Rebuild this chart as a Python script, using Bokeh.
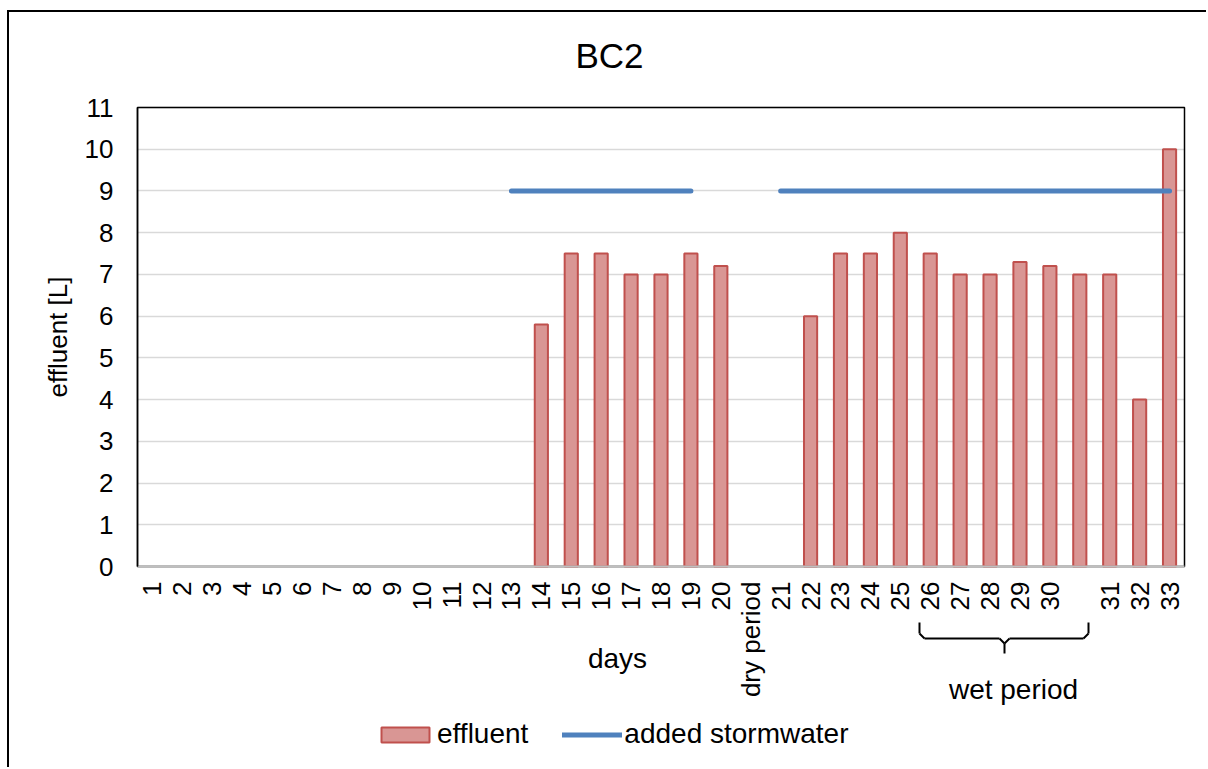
import math

from bokeh.embed import file_html
from bokeh.models import (Arrow, BoxAnnotation, ColumnDataSource, FixedTicker,
                          Label, Legend, LegendItem, Range1d)
from bokeh.plotting import figure
from bokeh.resources import INLINE

# ---- data -----------------------------------------------------------------
day_labels = [str(d) for d in range(1, 21)] + ["dry period"] + \
             [str(d) for d in range(21, 31)] + [""] + ["31", "32", "33"]

# effluent volume per day [L]; None = no measurement
effluent = [None] * 13 + [5.8, 7.5, 7.5, 7.0, 7.0, 7.5, 7.2] + \
           [None, None] + [6.0, 7.5, 7.5, 8.0, 7.5, 7.0, 7.0, 7.3, 7.2, 7.0] + \
           [7.0, 4.0, 10.0]

# added stormwater marker level [L]; None = no stormwater added
stormwater = [None] * 12 + [9] * 7 + [None, None] + [9] * 14

y_ticks = list(range(0, 12))
Y_MAX = 11

FONT = "Liberation Sans"

# ---- layout (page pixels) -------------------------------------------------
CANVAS_X0, CANVAS_Y0 = 9, 12          # canvas origin inside the outer border
PAGE_W, PAGE_H = 1208, 769
PLOT_L, PLOT_R, PLOT_T, PLOT_B = 137, 1184, 107, 566

n = len(day_labels)
positions = list(range(1, n + 1))
px_per_x = (PLOT_R - PLOT_L) / n
px_per_y = (PLOT_B - PLOT_T) / Y_MAX


def dx(page_x):
    return 0.5 + (page_x - PLOT_L) / px_per_x


def dy(page_y):
    return (PLOT_B - page_y) / px_per_y


# the frame covers the whole canvas, so the plot box, the axes and all
# annotations live in one coordinate system
p = figure(
    width=PAGE_W - CANVAS_X0, height=PAGE_H - CANVAS_Y0,
    x_range=Range1d(dx(CANVAS_X0), dx(PAGE_W)),
    y_range=Range1d(dy(PAGE_H), dy(CANVAS_Y0)),
    output_backend="svg", toolbar_location=None,
    min_border=0, min_border_left=0, min_border_right=0,
    min_border_top=0, min_border_bottom=0,
    background_fill_color="white", border_fill_color="white",
)
p.margin = (10, 0, 0, 7)
p.styles = {"border-left": "2px solid black", "border-top": "2px solid black"}
p.outline_line_color = None

# x axis: one tick per day, vertical labels
xa = p.xaxis[0]
xa.fixed_location = 0
xa.bounds = (0.5, n + 0.5)
xa.ticker = FixedTicker(ticks=positions)
xa.major_label_overrides = {pos: (lab if lab else " ") for pos, lab in zip(positions, day_labels)}
xa.major_label_orientation = math.pi / 2
xa.major_label_text_font = FONT
xa.major_label_text_font_size = "26px"
xa.major_label_text_color = "black"
xa.major_label_standoff = 9
xa.major_tick_line_color = None
xa.minor_tick_line_color = None
xa.axis_line_color = "#BFBFBF"
xa.axis_line_width = 2

# y axis
ya = p.yaxis[0]
ya.fixed_location = 0.5
ya.bounds = (0, Y_MAX)
ya.ticker = FixedTicker(ticks=y_ticks)
ya.major_label_text_font = FONT
ya.major_label_text_font_size = "26px"
ya.major_label_text_color = "black"
ya.major_label_standoff = 18
ya.major_tick_line_color = None
ya.minor_tick_line_color = None
ya.axis_line_color = "black"
ya.axis_line_width = 1.5
ya.axis_label = "effluent [L]"
ya.axis_label_text_font = FONT
ya.axis_label_text_font_size = "26px"
ya.axis_label_text_font_style = "normal"
ya.axis_label_text_color = "black"
ya.axis_label_standoff = 9

# horizontal grid only, inside the plot box and without the box edges
p.xgrid.visible = False
ygrid = p.ygrid[0]
ygrid.grid_line_color = "#D9D9D9"
ygrid.grid_line_width = 1.5
ygrid.bounds = (1, Y_MAX - 1)
if "cross_bounds" in ygrid.properties():
    ygrid.cross_bounds = (0.5, n + 0.5)
else:
    ygrid.visible = False
    inner = y_ticks[1:-1]
    p.segment(x0=[0.5] * len(inner), x1=[n + 0.5] * len(inner),
              y0=inner, y1=inner, line_color="#D9D9D9", line_width=1.5,
              level="underlay")

# plot area box
p.add_layout(BoxAnnotation(left=0.5, right=n + 0.5, bottom=0, top=Y_MAX,
                           fill_color=None, fill_alpha=0,
                           line_color="black", line_alpha=1,
                           line_width=1.5, level="underlay"))

# ---- series ---------------------------------------------------------------
bar_src = ColumnDataSource(dict(
    x=[pos for pos, v in zip(positions, effluent) if v is not None],
    top=[v for v in effluent if v is not None],
))
bars = p.vbar(x="x", top="top", width=0.44, source=bar_src,
              fill_color="#D99694", line_color="#C0504D", line_width=2)

storm_src = ColumnDataSource(dict(
    x=positions,
    y=[math.nan if v is None else v for v in stormwater],
))
storm = p.line(x="x", y="y", source=storm_src, line_width=5,
               line_color="#4F81BD", line_cap="round")

# ---- texts ----------------------------------------------------------------
def add_text(page_x, page_y, text, size):
    p.add_layout(Label(x=dx(page_x), y=dy(page_y), text=text,
                       text_align="center", text_baseline="middle",
                       text_font=FONT, text_font_size=size,
                       text_color="black"))


add_text(609, 55, "BC2", "35px")
add_text(617, 658, "days", "28px")
add_text(1013, 689, "wet period", "28px")

# curly bracket under the wet-period days
bx0, bx1, bxm = dx(919), dx(1088), dx(1004)
by_top, by_mid, by_bot = dy(622), dy(638), dy(653)
cx, cy = 5 / px_per_x, 5 / px_per_y
bracket = [
    (bx0, by_top, bx0, by_mid + cy),
    (bx0, by_mid + cy, bx0 + cx, by_mid),
    (bx0 + cx, by_mid, bxm - cx, by_mid),
    (bxm - cx, by_mid, bxm, by_mid - cy),
    (bxm, by_mid - cy, bxm, by_bot),
    (bxm, by_mid - cy, bxm + cx, by_mid),
    (bxm + cx, by_mid, bx1 - cx, by_mid),
    (bx1 - cx, by_mid, bx1, by_mid + cy),
    (bx1, by_mid + cy, bx1, by_top),
]
for xs, ys, xe, ye in bracket:
    p.add_layout(Arrow(x_start=xs, y_start=ys, x_end=xe, y_end=ye,
                       start=None, end=None, line_color="black", line_width=2))

# ---- legend ---------------------------------------------------------------
legend = Legend(
    items=[LegendItem(label="effluent", renderers=[bars]),
           LegendItem(label="added stormwater", renderers=[storm])],
    orientation="horizontal",
    location=(375 - CANVAS_X0, PAGE_H - 750),
    border_line_color=None, background_fill_alpha=0,
    padding=0, margin=0, glyph_width=60, glyph_height=19,
    label_standoff=2, spacing=34,
    label_text_font=FONT, label_text_font_size="28px",
    label_text_color="black",
)
p.add_layout(legend)

open("out.html", "w").write(file_html(p, INLINE))
